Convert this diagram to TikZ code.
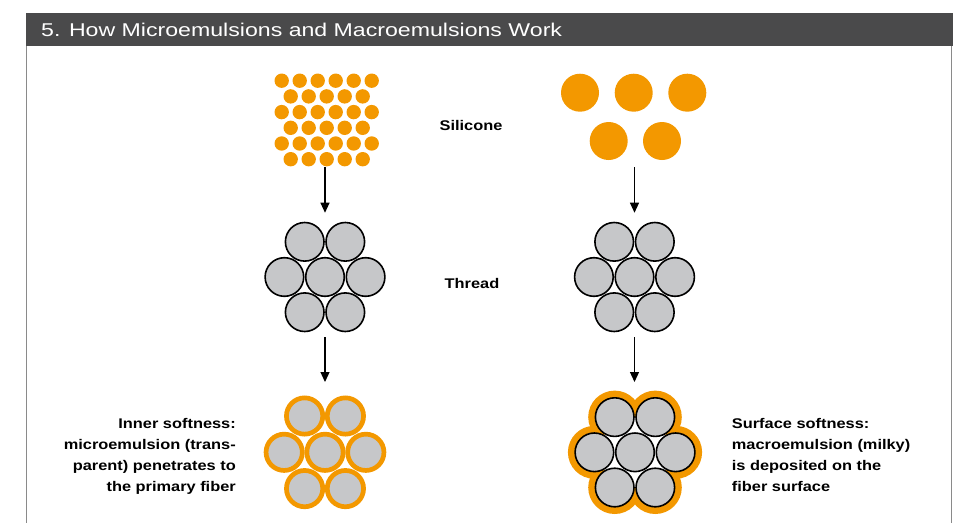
\documentclass[tikz,border=0pt]{standalone}
\usepackage{fontspec}
\setmainfont{Liberation Sans}
\newfontfamily\captionfont[FakeStretch=1.17]{Liberation Sans}
\newfontfamily\titlefont[FakeStretch=1.25]{Liberation Sans}
\usetikzlibrary{arrows.meta}
\definecolor{silOrange}{HTML}{F39800}
\definecolor{fiberGray}{HTML}{C6C7C9}
\definecolor{barGray}{HTML}{4A4A4B}
\definecolor{frameGray}{HTML}{8A8A8A}
\begin{document}
\begin{tikzpicture}[x=1pt,y=1pt]
\tikzstyle{every node}+=[inner sep=0pt]
\tikzstyle{fiber}=[circle, fill=fiberGray, draw=black, line width=1.6pt, minimum size=38.6pt]
\tikzstyle{wetfiber}=[circle, fill=fiberGray, draw=silOrange, line width=4.7pt, minimum size=36.3pt]
\tikzstyle{caption}=[font=\captionfont\bfseries\fontsize{14}{21}\selectfont]
\tikzstyle{flow}=[black, line width=1.2pt, -{Triangle[length=10pt,width=9pt]}]
\useasboundingbox (0,0) rectangle (963,-523);
% frame and title bar
\draw [frameGray, line width=1.2pt] (26.6,-45) -- (26.6,-523);
\draw [frameGray, line width=1.2pt] (951.8,-45) -- (951.8,-523);
\fill [barGray] (26,-13.3) rectangle (952.7,-45.7);
\node [anchor=base west, text=white, font=\titlefont\fontsize{18.5}{22}\selectfont] (title) at (41,-36.7) {5. How Microemulsions and Macroemulsions Work};
% silicone, micro (small droplets)
\foreach \row in {0,2,4}
  \foreach \col in {0,...,5}
    \fill [silOrange] (281.7+18*\col,-80.7-15.7*\row) circle (7.2);
\foreach \row in {1,3,5}
  \foreach \col in {0,...,4}
    \fill [silOrange] (290.7+18*\col,-80.7-15.7*\row) circle (7.2);
% silicone, macro (large droplets)
\fill [silOrange] (580,-92.7) circle (19);
\fill [silOrange] (633.7,-92.7) circle (19);
\fill [silOrange] (687.3,-92.7) circle (19);
\fill [silOrange] (608.7,-141) circle (19);
\fill [silOrange] (662,-141) circle (19);
\node [caption] (silicone) at (471,-125) {Silicone};
% threads
\node [fiber] (lt1) at (304.7,-241.8) {};
\node [fiber] (lt2) at (345.3,-241.8) {};
\node [fiber] (lt3) at (284.4,-277) {};
\node [fiber] (lt4) at (325,-277) {};
\node [fiber] (lt5) at (365.6,-277) {};
\node [fiber] (lt6) at (304.7,-312.2) {};
\node [fiber] (lt7) at (345.3,-312.2) {};
\node [fiber] (rt1) at (614.2,-241.8) {};
\node [fiber] (rt2) at (654.8,-241.8) {};
\node [fiber] (rt3) at (593.9,-277) {};
\node [fiber] (rt4) at (634.5,-277) {};
\node [fiber] (rt5) at (675.1,-277) {};
\node [fiber] (rt6) at (614.2,-312.2) {};
\node [fiber] (rt7) at (654.8,-312.2) {};
\node [caption] (thread) at (472,-283) {Thread};
% inner softness
\node [wetfiber] (lf1) at (304.6,-416) {};
\node [wetfiber] (lf2) at (345.4,-416) {};
\node [wetfiber] (lf3) at (284.2,-452.3) {};
\node [wetfiber] (lf4) at (325,-452.3) {};
\node [wetfiber] (lf5) at (365.8,-452.3) {};
\node [wetfiber] (lf6) at (304.6,-488.6) {};
\node [wetfiber] (lf7) at (345.4,-488.6) {};
\node [caption, align=right, anchor=north east] (inner) at (236,-418.3) {Inner softness:\\microemulsion (trans-\\parent) penetrates to\\the primary fiber};
% surface softness
\fill [silOrange] (614.7,-417.1) circle (26.5);
\fill [silOrange] (655.3,-417.1) circle (26.5);
\fill [silOrange] (594.4,-452.3) circle (26.5);
\fill [silOrange] (635,-452.3) circle (26.5);
\fill [silOrange] (675.6,-452.3) circle (26.5);
\fill [silOrange] (614.7,-487.5) circle (26.5);
\fill [silOrange] (655.3,-487.5) circle (26.5);
\fill [white] (614.7,-417.1) -- (655.3,-417.1) -- (675.6,-452.3) -- (655.3,-487.5) -- (614.7,-487.5) -- (594.4,-452.3) -- cycle;
\node [fiber] (rf1) at (614.7,-417.1) {};
\node [fiber] (rf2) at (655.3,-417.1) {};
\node [fiber] (rf3) at (594.4,-452.3) {};
\node [fiber] (rf4) at (635,-452.3) {};
\node [fiber] (rf5) at (675.6,-452.3) {};
\node [fiber] (rf6) at (614.7,-487.5) {};
\node [fiber] (rf7) at (655.3,-487.5) {};
\node [caption, align=left, anchor=north west] (surface) at (731.7,-418.3) {Surface softness:\\macroemulsion (milky)\\is deposited on the\\fiber surface};
% arrows
\coordinate (ls) at (325,-167);
\coordinate (lt) at (325,-212.7);
\coordinate (lb) at (325,-337);
\coordinate (lf) at (325,-382);
\coordinate (rs) at (634.5,-167);
\coordinate (rt) at (634.5,-212.7);
\coordinate (rb) at (634.5,-337);
\coordinate (rf) at (634.5,-382);
\draw [flow] (ls) -- (lt);
\draw [flow] (lb) -- (lf);
\draw [flow] (rs) -- (rt);
\draw [flow] (rb) -- (rf);
\end{tikzpicture}
\end{document}
